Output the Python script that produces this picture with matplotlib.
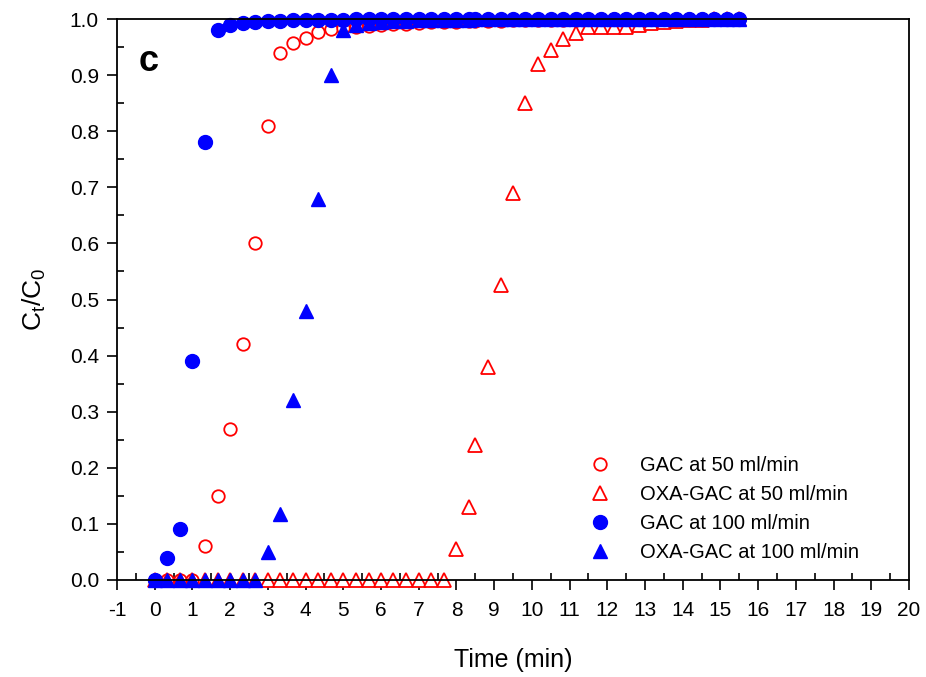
import matplotlib.pyplot as plt
from matplotlib.ticker import MultipleLocator, FormatStrFormatter

plt.rcParams['font.family'] = ['Liberation Sans', 'DejaVu Sans']
plt.rcParams['mathtext.default'] = 'regular'
plt.rcParams['axes.unicode_minus'] = False

# time grid (min)
t_early = [0, 0.33, 0.67, 1.0, 1.33, 1.67, 2.0, 2.33, 2.67, 3.0, 3.33, 3.67,
           4.0, 4.33, 4.67, 5.0, 5.33, 5.67, 6.0, 6.33, 6.67, 7.0, 7.33, 7.67,
           8.0, 8.33]
t_late = [8.5, 8.83, 9.17, 9.5, 9.83, 10.17, 10.5, 10.83, 11.17, 11.5, 11.83,
          12.17, 12.5, 12.83, 13.17, 13.5, 13.83, 14.17, 14.5, 14.83, 15.17, 15.5]
time = t_early + t_late

gac_50 = [0, 0, 0, 0, 0.06, 0.15, 0.27, 0.42, 0.60, 0.81, 0.94, 0.957,
          0.967, 0.976, 0.982, 0.984, 0.986, 0.988, 0.99, 0.991, 0.992, 0.993, 0.994, 0.995,
          0.995, 0.996, 0.996, 0.997, 0.997, 0.998, 0.998, 0.998, 0.999, 0.999, 0.999,
          0.999, 1.0, 1.0, 1.0, 1.0, 1.0, 1.0, 1.0, 1.0, 1.0, 1.0, 1.0, 1.0]

oxa_50 = [0, 0, 0, 0, 0, 0, 0, 0, 0, 0, 0, 0,
          0, 0, 0, 0, 0, 0, 0, 0, 0, 0, 0, 0,
          0.055, 0.13, 0.24, 0.38, 0.525, 0.69, 0.85, 0.92, 0.945, 0.965, 0.975,
          0.985, 0.985, 0.985, 0.985, 0.99, 0.993, 0.995, 0.997, 0.998, 0.999,
          1.0, 1.0, 1.0]

gac_100 = [0, 0.04, 0.09, 0.39, 0.78, 0.98, 0.99, 0.993, 0.995, 0.996, 0.997, 0.998,
           0.998, 0.999, 0.999, 0.999, 1.0, 1.0, 1.0, 1.0, 1.0, 1.0, 1.0, 1.0,
           1.0, 1.0, 1.0, 1.0, 1.0, 1.0, 1.0, 1.0, 1.0, 1.0, 1.0, 1.0,
           1.0, 1.0, 1.0, 1.0, 1.0, 1.0, 1.0, 1.0, 1.0, 1.0, 1.0, 1.0]

oxa_100 = [0, 0, 0, 0, 0, 0, 0, 0, 0, 0.05, 0.117, 0.32,
           0.48, 0.68, 0.90, 0.98, 0.99, 0.993, 0.995, 0.996, 0.997, 0.998, 0.998, 0.999,
           0.999, 0.999, 1.0, 1.0, 1.0, 1.0, 1.0, 1.0, 1.0, 1.0, 1.0, 1.0,
           1.0, 1.0, 1.0, 1.0, 1.0, 1.0, 1.0, 1.0, 1.0, 1.0, 1.0, 1.0]

labels = ['GAC at 50 ml/min', 'OXA-GAC at 50 ml/min',
          'GAC at 100 ml/min', 'OXA-GAC at 100 ml/min']

fig = plt.figure(figsize=(9.26, 6.77), dpi=100)
ax = fig.add_axes([0.1264, 0.1433, 0.8552, 0.8286])

ax.plot(time, gac_50, 'o', mfc='white', mec='red', mew=1.3, ms=9,
        clip_on=False, label=labels[0])
ax.plot(time, oxa_50, '^', mfc='white', mec='red', mew=1.3, ms=10,
        clip_on=False, label=labels[1])
ax.plot(time, gac_100, 'o', color='blue', ms=10, clip_on=False, label=labels[2])
ax.plot(time, oxa_100, '^', color='blue', ms=10, clip_on=False, label=labels[3])

ax.set_xlim(-1, 20)
ax.set_ylim(0, 1.0)
ax.xaxis.set_major_locator(MultipleLocator(1))
ax.xaxis.set_minor_locator(MultipleLocator(0.5))
ax.yaxis.set_major_locator(MultipleLocator(0.1))
ax.yaxis.set_minor_locator(MultipleLocator(0.05))
ax.yaxis.set_major_formatter(FormatStrFormatter('%.1f'))
ax.tick_params(which='major', direction='out', length=7, width=1.2, labelsize=15)
ax.tick_params(axis='y', which='major', pad=6)
ax.tick_params(axis='x', which='major', pad=8)
ax.tick_params(which='minor', direction='in', length=5, width=1.2)
ax.tick_params(top=False, right=False, which='both')
for lab in ax.get_xticklabels():
    lab.set_family(['Liberation Sans Narrow', 'Liberation Sans'])
for s in ax.spines.values():
    s.set_linewidth(1.3)

ax.set_xlabel('Time (min)', fontsize=18, labelpad=20)
ax.set_ylabel('C$_t$/C$_0$', fontsize=19, labelpad=16)
ax.text(0.027, 0.955, 'c', transform=ax.transAxes, fontsize=26,
        fontweight='bold', va='top')

ax.legend(loc='lower right', bbox_to_anchor=(0.960, 0.0), frameon=False,
          fontsize=14.5, handletextpad=1.0, labelspacing=0.50,
          borderaxespad=0.5)

fig.savefig('out.png', dpi=100)
